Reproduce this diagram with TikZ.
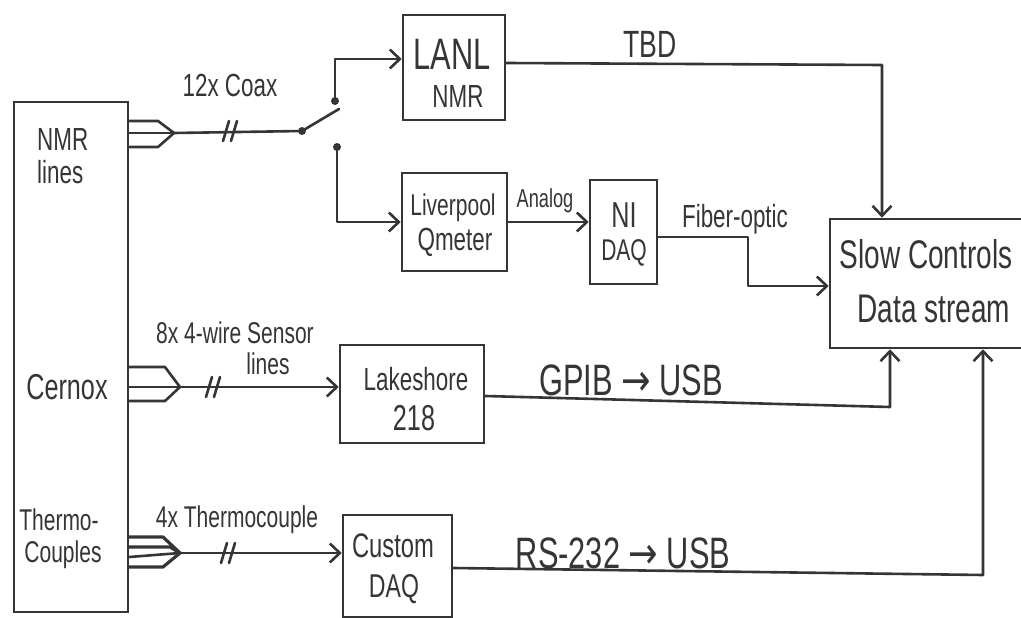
\documentclass[tikz,border=0pt]{standalone}
\usepackage{fontspec}
\setmainfont{Liberation Sans}[FakeStretch=0.7]
\newfontfamily\arrowfont{DejaVu Sans}[FakeStretch=0.8]
\usetikzlibrary{arrows.meta}
\definecolor{ink}{HTML}{353535}
\newcommand{\hsz}[1]{\fontsize{#1}{#1}\selectfont}
\newcommand{\rarr}{{\arrowfont →}}
\newcommand{\brkmark}[1]{%
  \draw[wire] ([shift={(-7,10)}]#1) -- ++(6,-20);
  \draw[wire] ([shift={(1,10)}]#1) -- ++(6,-20);}
\begin{document}
\begin{tikzpicture}[x=1pt,y=-1pt,
  box/.style={draw=ink, line width=2.6pt, inner sep=0pt},
  lbl/.style={text=ink, inner sep=0pt, anchor=base},
  wire/.style={draw=ink, line width=2.6pt, line join=round, line cap=round},
  arr/.style={wire, -{Straight Barb[length=10pt,width=19pt]}},
  dot/.style={circle, fill=ink, inner sep=0pt, minimum size=8pt}]
\useasboundingbox[fill=white] (0,0) rectangle (1021,618);

% boxes
\node[box, minimum width=114pt, minimum height=510pt] (src) at (71,357) {};
\node[box, minimum width=102pt, minimum height=105pt] (lanl) at (454,67.5) {};
\node[box, minimum width=105pt, minimum height=98pt] (liv) at (454.5,222) {};
\node[box, minimum width=67pt, minimum height=104pt] (ni) at (623.5,232) {};
\node[box, minimum width=200pt, minimum height=129pt] (slow) at (930,283.5) {};
\node[box, minimum width=144pt, minimum height=98pt] (lake) at (412,394) {};
\node[box, minimum width=109pt, minimum height=102pt] (cust) at (397.5,566) {};

% texts in boxes
\node[lbl, anchor=base west] (tnmr) at (37,150) {\hsz{32}NMR};
\node[lbl, anchor=base west] (tlines) at (37,183) {\hsz{32}lines};
\node[lbl] (tcern) at (67,399) {\hsz{36}Cernox};
\node[lbl] (tth1) at (59,530) {\hsz{30}Thermo-};
\node[lbl] (tth2) at (63,562) {\hsz{30}Couples};
\node[lbl] (tlanl1) at (452,70) {\hsz{44}LANL};
\node[lbl] (tlanl2) at (458,107) {\hsz{32}NMR};
\node[lbl] (tliv1) at (453,215) {\hsz{30}Liverpool};
\node[lbl] (tliv2) at (455,250) {\hsz{32}Qmeter};
\node[lbl] (tni1) at (624,227) {\hsz{36}NI};
\node[lbl] (tni2) at (624,260) {\hsz{30}DAQ};
\node[lbl] (tslow1) at (926,268) {\hsz{40}Slow Controls};
\node[lbl] (tslow2) at (934,322) {\hsz{40}Data stream};
\node[lbl] (tlake1) at (416,390) {\hsz{32}Lakeshore};
\node[lbl] (tlake2) at (414,430) {\hsz{36}218};
\node[lbl] (tcust1) at (393,557) {\hsz{34}Custom};
\node[lbl] (tcust2) at (394,597) {\hsz{33}DAQ};

% connector labels
\node[lbl] (lcoax) at (230,97) {\hsz{32}12x Coax};
\node[lbl] (ltbd) at (650,58) {\hsz{38}TBD};
\node[lbl] (lana) at (545,207) {\hsz{26}Analog};
\node[lbl] (lfib) at (735,227) {\hsz{32}Fiber-optic};
\node[lbl] (lsen1) at (235,343) {\hsz{30}8x 4-wire Sensor};
\node[lbl] (lsen2) at (268,374) {\hsz{30}lines};
\node[lbl] (lgpib) at (631,395) {\hsz{44}GPIB \rarr{} USB};
\node[lbl] (lthc) at (237,527) {\hsz{30}4x Thermocouple};
\node[lbl] (lrs) at (623,568) {\hsz{44}RS-232 \rarr{} USB};

% coordinates
\coordinate (p1) at (174,133);
\coordinate (p2) at (180,387);
\coordinate (p3) at (180,553);
\coordinate (b1) at (230,131);
\coordinate (b2) at (213,387);
\coordinate (b3) at (228,553);
\coordinate (lev) at (339,109);
\coordinate (t1) at (882,65);
\coordinate (f1) at (748,237);
\coordinate (g1) at (890,407);
\coordinate (r1) at (983,575);

\node[dot] (sw) at (302,131) {};
\node[dot] (swa) at (335,101) {};
\node[dot] (swb) at (337,147) {};

% plugs
\draw[wire] (src.east |- 0,121) -- (158,121) -- (p1) -- (158,147) -- (src.east |- 0,147);
\draw[wire] (src.east |- p1) -- (p1);
\draw[wire] (src.east |- 0,367) -- (165,367) -- (p2) -- (165,401) -- (src.east |- 0,401);
\draw[wire] (src.east |- p2) -- (p2);
\draw[wire, line width=3.2pt] (src.east |- 0,537) -- (163,537) -- (p3) -- (163,567) -- (src.east |- 0,567);
\draw[wire, line width=3.2pt] (src.east |- 0,547) -- (170,547) -- (p3);
\draw[wire] (src.east |- 0,557) -- (p3);

% NMR switch
\draw[wire] (p1) -- (sw.center);
\brkmark{b1}
\draw[wire] (sw.center) -- (lev);
\draw[arr] (swa.center) |- (lanl.west |- 0,59);
\draw[arr] (swb.center) |- (liv.west);

% other connectors
\draw[arr] (liv.east) -- (ni.west |- liv.east);
\draw[arr] (ni.east |- f1) -- (f1) |- (slow.west |- 0,286);
\draw[arr] (lanl.east |- 0,63) -- (t1) -- (t1 |- slow.north);
\draw[arr] (p2) -- (lake.west |- p2);
\brkmark{b2}
\draw[arr] (p3) -- (cust.west |- p3);
\brkmark{b3}
\draw[arr] (lake.east |- 0,396) -- (g1) -- (g1 |- slow.south);
\draw[arr] (cust.east |- 0,568) -- (r1) -- (r1 |- slow.south);
\end{tikzpicture}
\end{document}
